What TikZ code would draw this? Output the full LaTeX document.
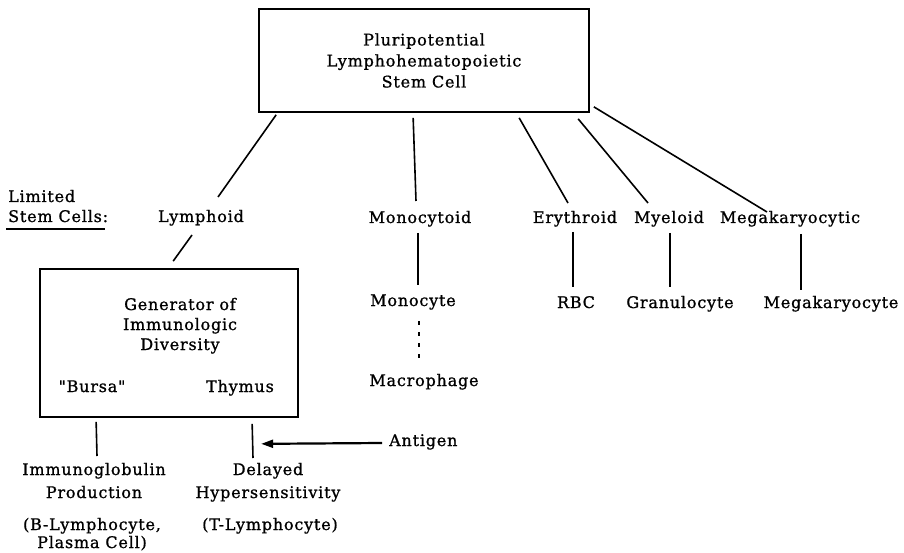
\documentclass[tikz,border=0pt]{standalone}
\usepackage{fontspec}
\setmainfont{DejaVu Serif}[LetterSpace=5, Ligatures=TeXOff, FakeBold=1]
\usetikzlibrary{arrows.meta,calc}
\begin{document}
\begin{tikzpicture}[x=1pt,y=-1pt,
  lbl/.style={font=\fontsize{16}{20}\selectfont, inner sep=0pt, align=center, anchor=base},
  boxnode/.style={draw, line width=1.7pt, inner sep=0pt, align=center, font=\fontsize{16}{21}\selectfont},
  conn/.style={line width=1.6pt},
  dotconn/.style={line width=1.6pt, dash pattern=on 4pt off 7pt}]
\useasboundingbox (0,0) rectangle (904,553);
% top box
\node[boxnode, minimum width=330pt, minimum height=103pt] (top) at (424,60.5)
  {Pluripotential\\Lymphohematopoietic\\Stem Cell};
% limited stem cells
\node[lbl, anchor=base west] (lim) at (8,202) {Limited};
\node[lbl, anchor=base west] (stc) at (8,222) {Stem Cells:};
\draw[line width=1.6pt] ($(stc.base west)+(-2,7)$) -- ($(stc.base east)+(-3,7)$);
% row of limited stem cells
\node[lbl] (lym) at (201,222) {Lymphoid};
\node[lbl] (mcd) at (420,223) {Monocytoid};
\node[lbl] (ery) at (575,223) {Erythroid};
\node[lbl] (mye) at (669,223) {Myeloid};
\node[lbl] (mgc) at (790,223) {Megakaryocytic};
% connectors from top box
\draw[conn] ($(top.south west)+(18,2)$) -- ($(lym.base)+(17,-25)$);
\draw[conn] ($(top.south west)+(155,5)$) -- ($(mcd.base)+(-4,-22)$);
\draw[conn] ($(top.south west)+(261,5)$) -- ($(ery.base)+(-7,-20)$);
\draw[conn] ($(top.south west)+(320,6)$) -- ($(mye.base)+(-21,-20)$);
\draw[conn] ($(top.south east)+(4,-6)$) -- ($(mgc.base)+(-23,-11)$);
% second row
\node[lbl] (mon) at (413,306) {Monocyte};
\node[lbl] (mac) at (424,386) {Macrophage};
\node[lbl] (rbc) at (576,308) {RBC};
\node[lbl] (gra) at (680,308) {Granulocyte};
\node[lbl] (mgk) at (831,308) {Megakaryocyte};
\draw[conn] ($(mcd.base)+(-2,10)$) -- ($(mon.base)+(5,-21)$);
\draw[dotconn] ($(mon.base)+(6,15)$) -- ($(mac.base)+(-5,-22)$);
\draw[conn] ($(ery.base)+(-2,9)$) -- ($(rbc.base)+(-3,-21)$);
\draw[conn] ($(mye.base)+(1,10)$) -- ($(gra.base)+(-10,-21)$);
\draw[conn] ($(mgc.base)+(11,11)$) -- ($(mgk.base)+(-30,-18)$);
% generator box
\node[boxnode, minimum width=258pt, minimum height=148pt] (gen) at (169,343) {};
\node[lbl] (gtx) at (180,350) {Generator of\\Immunologic\\Diversity};
\node[lbl] (bur) at (92,392) {"Bursa"};
\node[lbl] (thy) at (240,392) {Thymus};
\draw[conn] ($(lym.base)+(-9,13)$) -- ($(gen.north west)+(134,-7)$);
% bottom
\node[lbl] (imm) at (94,498) {Immunoglobulin\\[3pt]Production};
\node[lbl] (bly) at (92,548) {(B-Lymphocyte,\\[-2pt]Plasma Cell)};
\node[lbl] (del) at (268,498) {Delayed\\[3pt]Hypersensitivity};
\node[lbl] (tly) at (270,530) {(T-Lymphocyte)};
\node[lbl, anchor=base west] (ant) at (389,446) {Antigen};
\draw[conn] ($(gen.south west)+(57,4)$) -- ($(imm.base)+(3,-42)$);
\coordinate (tl) at ($(gen.south west)+(213,6)$);
\draw[conn] (tl) -- ($(del.base)+(-15,-40)$);
\coordinate (tip) at ($(tl)+(9,20)$);
\draw[line width=2.2pt, -{Triangle[length=12pt,width=8pt]}] ($(ant.base west)+(-7,-3)$) -- (tip);
\end{tikzpicture}
\end{document}
